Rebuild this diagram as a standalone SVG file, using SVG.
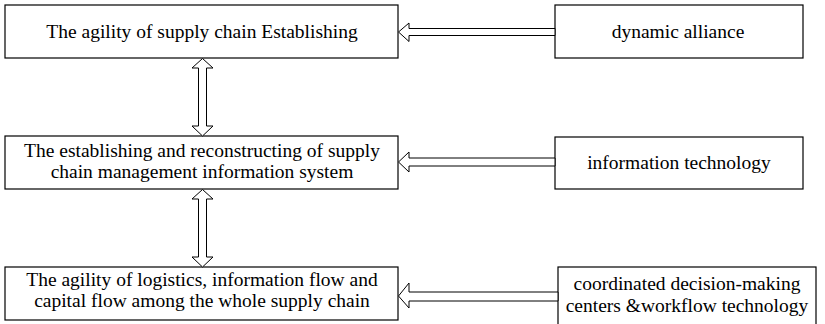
<svg xmlns="http://www.w3.org/2000/svg" width="825" height="324" viewBox="0 0 825 324">
<style>
.box{fill:#fff;stroke:#000;stroke-width:1.2}
.t{font-family:"Liberation Serif","Times New Roman",serif;font-size:19.5px;fill:#000;text-anchor:middle}
.ar{fill:#fff;stroke:#000;stroke-width:1}
</style>
<rect width="825" height="324" fill="#fff"/>
<g id="n1"><rect class="box" x="5" y="5" width="393" height="53"/><text class="t" x="202" y="38">The agility of supply chain Establishing</text></g>
<g id="n2"><rect class="box" x="555" y="5" width="248" height="53"/><text class="t" x="678" y="38">dynamic alliance</text></g>
<g id="n3"><rect class="box" x="5" y="136" width="393" height="53"/><text class="t" x="202" y="157">The establishing and reconstructing of supply</text><text class="t" x="202" y="178">chain management information system</text></g>
<g id="n4"><rect class="box" x="555" y="137" width="248" height="52"/><text class="t" x="679" y="169">information technology</text></g>
<g id="n5"><rect class="box" x="5" y="267" width="393" height="53"/><text class="t" x="202" y="286">The agility of logistics, information flow and</text><text class="t" x="202" y="307">capital flow among the whole supply chain</text></g>
<g id="n6"><rect class="box" x="558" y="267" width="258" height="62"/><text class="t" x="687" y="290">coordinated decision-making</text><text class="t" x="687" y="312">centers &amp;workflow technology</text></g>
<g id="connectors">
<path class="ar" d="M555,28.5 H409 V23 L398.5,32 L409,41.5 V35.5 H555 Z"/>
<path class="ar" d="M555,158 H409 V152 L398.5,162 L409,172 V166 H555 Z"/>
<path class="ar" d="M558,292 H409 V283 L398.5,296 L409,308 V301 H558 Z"/>
<path class="ar" d="M202.5,58.5 L213,68 H206.5 V126 H213 L202.5,136 L192,126 H198.5 V68 H192 Z"/>
<path class="ar" d="M202.5,189.5 L213,199 H206.5 V257 H213 L202.5,267 L192,257 H198.5 V199 H192 Z"/>
</g>
</svg>
